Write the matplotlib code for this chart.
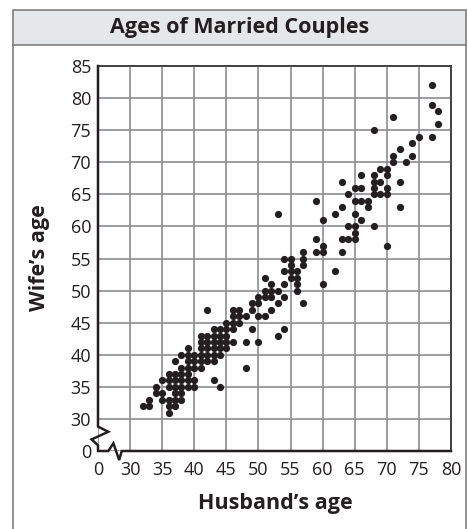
import matplotlib
matplotlib.use("Agg")
import matplotlib.pyplot as plt
from matplotlib.patches import Rectangle
from matplotlib.lines import Line2D

plt.rcParams['font.family'] = ['Open Sans', 'DejaVu Sans']

# husband / wife ages (wife's age from top)
husband = [77, 77, 78, 71, 78, 68, 75, 77, 74, 72, 71, 74, 71, 73, 69, 70,
           66, 68, 70, 63, 68, 69, 72, 65, 66, 68, 70, 64, 68, 69, 70,
           59, 65, 66, 67, 63, 67, 72, 53, 62, 65, 60, 66, 64, 65, 68, 65,
           59, 63, 64, 65, 60, 70, 57, 59, 60, 63, 54, 55, 57, 55, 57,
           54, 55, 56, 62, 51, 55, 56, 52, 54, 56, 60, 51, 52, 53, 56,
           50, 51, 52, 54, 49, 50, 53, 57, 42, 46, 47, 49, 52,
           46, 47, 48, 50, 51, 45, 46, 47, 43, 44, 45, 46, 49, 54,
           41, 42, 43, 44, 45, 53, 41, 42, 43, 44, 45, 46, 48, 50,
           39, 41, 42, 43, 44, 45, 38, 39, 40, 41, 42, 43, 44,
           37, 39, 40, 41, 42, 43, 38, 39, 40, 41, 48, 36, 37, 38, 39,
           35, 36, 37, 38, 39, 40, 43, 34, 36, 37, 38, 39, 40, 44,
           34, 35, 37, 38, 33, 35, 36, 37, 38, 32, 33, 36, 37, 36]
wife = [82, 79, 78, 77, 76, 75, 74, 74, 73, 72, 71, 71, 70, 70, 69, 69,
        68, 68, 68, 67, 67, 67, 67, 66, 66, 66, 66, 65, 65, 65, 65,
        64, 64, 64, 64, 63, 63, 63, 62, 62, 62, 61, 61, 60, 60, 60, 59,
        58, 58, 58, 58, 57, 57, 56, 56, 56, 56, 55, 55, 55, 54, 54,
        53, 53, 53, 53, 52, 52, 52, 51, 51, 51, 51, 50, 50, 50, 50,
        49, 49, 49, 49, 48, 48, 48, 48, 47, 47, 47, 47, 47,
        46, 46, 46, 46, 46, 45, 45, 45, 44, 44, 44, 44, 44, 44,
        43, 43, 43, 43, 43, 43, 42, 42, 42, 42, 42, 42, 42, 42,
        41, 41, 41, 41, 41, 41, 40, 40, 40, 40, 40, 40, 40,
        39, 39, 39, 39, 39, 39, 38, 38, 38, 38, 38, 37, 37, 37, 37,
        36, 36, 36, 36, 36, 36, 36, 35, 35, 35, 35, 35, 35, 35,
        34, 34, 34, 34, 33, 33, 33, 33, 33, 32, 32, 32, 32, 31]

x_ticks = [25, 30, 35, 40, 45, 50, 55, 60, 65, 70, 75, 80]
x_labels = ['0', '30', '35', '40', '45', '50', '55', '60', '65', '70', '75', '80']
y_ticks = [25, 30, 35, 40, 45, 50, 55, 60, 65, 70, 75, 80, 85]
y_labels = ['0', '30', '35', '40', '45', '50', '55', '60', '65', '70', '75', '80', '85']

W, H = 468, 529
ink = '#231f20'
fig = plt.figure(figsize=(W / 100, H / 100), dpi=100)


def fx(px):
    return px / W


def fy(py):
    return 1 - py / H


# outer frame + grey title band
frame = '#7f7f7f'
fig.add_artist(Rectangle((fx(13), fy(45)), fx(466) - fx(13), fy(10) - fy(45),
                         transform=fig.transFigure, facecolor='#e6e7e8',
                         edgecolor=frame, lw=1.2))
fig.add_artist(Line2D([fx(13), fx(13)], [fy(45), 0], transform=fig.transFigure,
                      color=frame, lw=1.2))
fig.add_artist(Line2D([fx(466), fx(466)], [fy(45), 0], transform=fig.transFigure,
                      color=frame, lw=1.2))
fig.text(fx(240), fy(28), 'Ages of Married Couples', ha='center', va='center',
         fontsize=15.5, fontweight='bold', color=ink)

ax = fig.add_axes([fx(98), fy(451), fx(451) - fx(98), fy(66) - fy(451)])
ax.scatter(husband, wife, s=27, color=ink, zorder=3, linewidths=0)

ax.set_xlim(25, 80)
ax.set_ylim(25, 85)
ax.set_xticks(x_ticks)
ax.set_xticklabels(x_labels)
ax.set_yticks(y_ticks)
ax.set_yticklabels(y_labels)
ax.tick_params(length=0, labelsize=13, labelcolor=ink)
ax.tick_params(axis='x', pad=7)
ax.tick_params(axis='y', pad=5)
ax.grid(True, color='#939598', lw=1.3)
ax.set_axisbelow(True)

for side in ['left', 'bottom']:
    ax.spines[side].set_visible(False)
for side in ['top', 'right']:
    ax.spines[side].set_color('#414042')
    ax.spines[side].set_linewidth(1.4)

# axis lines with the zig-zag breaks
ax.plot([25, 25, 26.6, 24.0, 25, 25, 26.6, 27.4, 28.3, 28.7, 80],
        [85, 28.8, 28.0, 26.8, 25.9, 25, 25, 26.2, 23.6, 25, 25],
        color=ink, lw=1.8, clip_on=False, zorder=4, solid_joinstyle='miter')

fig.text(fx(40), fy(258), 'Wife\u2019s age', rotation=90, ha='center', va='center',
         fontsize=15.5, fontweight='bold', color=ink)
fig.text(fx(275), fy(503), 'Husband\u2019s age', ha='center', va='center',
         fontsize=15.5, fontweight='bold', color=ink)

fig.savefig('out.png', dpi=100)
